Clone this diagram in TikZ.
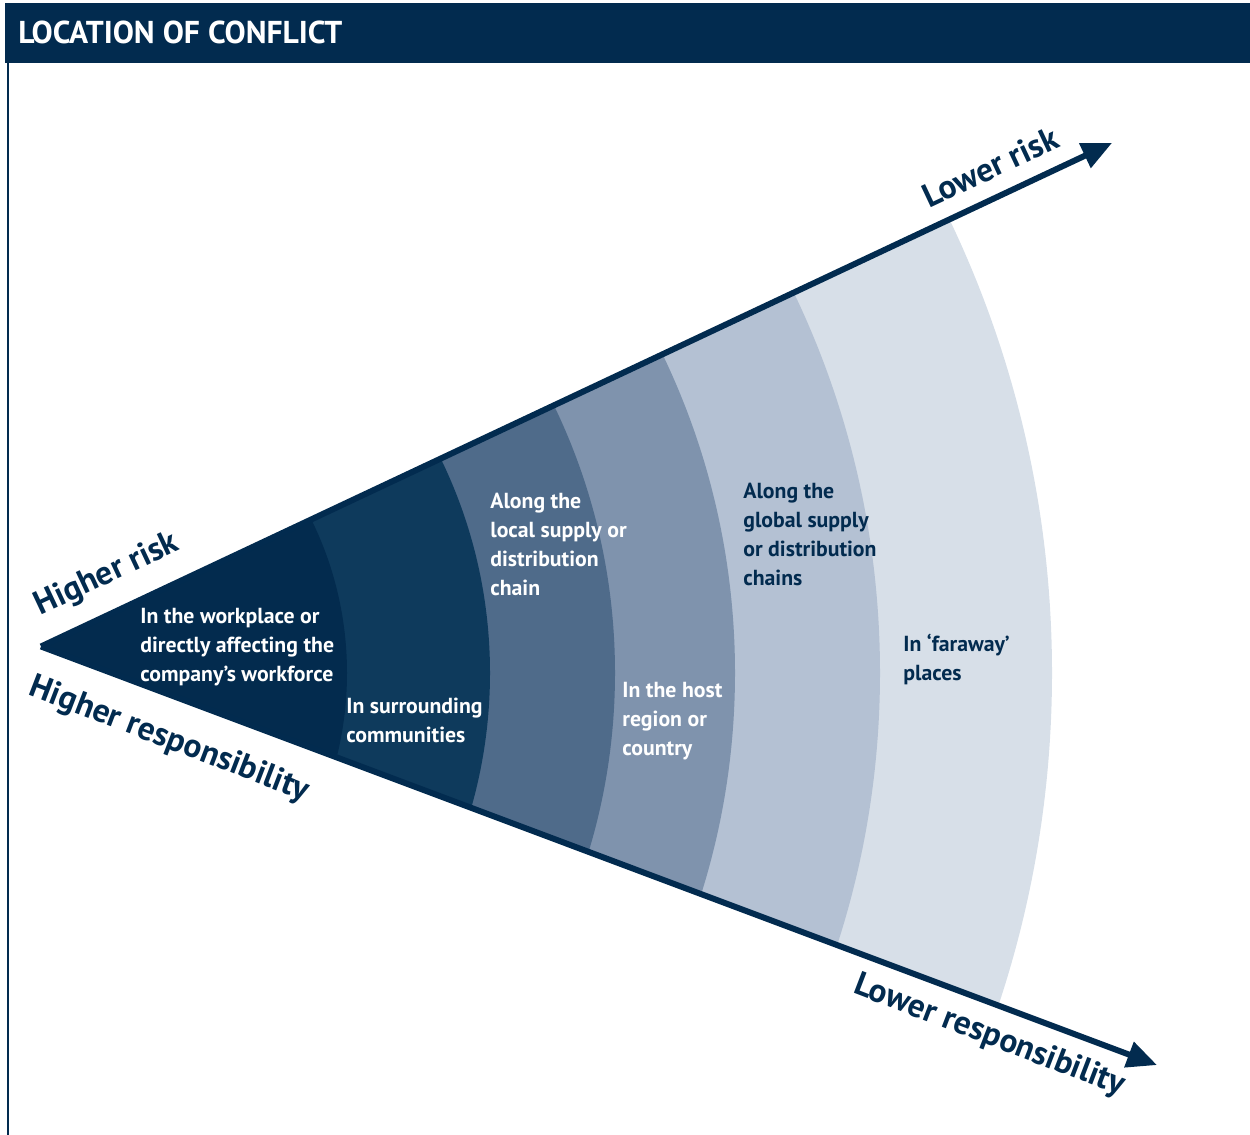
\documentclass[tikz,border=0pt]{standalone}
\usepackage{fontspec}
\setmainfont{PT Sans}
\usetikzlibrary{arrows.meta}
\definecolor{navy}{HTML}{022B4F}
\definecolor{bandA}{HTML}{032B4E}
\definecolor{bandB}{HTML}{0E3A5C}
\definecolor{bandC}{HTML}{4F6B8A}
\definecolor{bandD}{HTML}{7F93AD}
\definecolor{bandE}{HTML}{B4C1D3}
\definecolor{bandF}{HTML}{D7DFE8}
\begin{document}
\begin{tikzpicture}[x=0.02cm,y=0.02cm,font=\bfseries, line join=round, >={Triangle[length=0.6cm,width=0.52cm]}]
			\tikzset{vung/.style={anchor=west,align=left,inner sep=0pt,font=\bfseries\fontsize{12.4}{16.5}\selectfont},
				nhan/.style={navy,inner sep=0pt,font=\bfseries\fontsize{19}{21}\selectfont}}
			\useasboundingbox(0,0)rectangle(1250,1135);
			%%%%%%%%%%%%%%%%%%%KHUNG
			\fill[navy](5,1071.5)rectangle(1250,1131.5);
			\draw[navy,line width=1.4pt](8,1072)--(8,0);
			\node[white,anchor=west,inner sep=0pt,font=\bfseries\fontsize{18}{20}\selectfont](tieude) at (18,1102.5){LOCATION OF CONFLICT};
			%%%%%%%%%%%%%%%%%%%CAC VUNG
			\path(41,488.5)coordinate(O)(0,462)coordinate(M);
			\path(O)++(25.18:1183.5)coordinate(T)(O)++(-20.56:1192)coordinate(D);
			\begin{scope}
				\clip[shift={(O)}](0,0)--(25.18:1300)--(-20.56:1300)--cycle;
				\foreach \r/\c in{1052/bandF,880/bandE,735/bandD,615/bandC,490/bandB,347/bandA}
				\fill[\c](M)circle(\r);
			\end{scope}
			%%%%%%%%%%%%%%%%%%%MUI TEN
			\begin{scope}[navy,line width=3.4pt]
				\draw[->](O)--(T);
				\draw[->](O)--(D);
			\end{scope}
			\node[nhan,rotate=25.18](caorr) at (107,560){Higher risk};
			\node[nhan,rotate=-21](caotn) at (169,395){Higher responsibility};
			\node[nhan,rotate=25.18](thaprr) at (990,968){Lower risk};
			\node[nhan,rotate=-21](thaptn) at (989,99){Lower responsibility};
			%%%%%%%%%%%%%%%%%%%CHU
			\node[vung,white](v1) at (140,487.5){In the workplace or\\directly affecting the\\company’s workforce};
			\node[vung,white](v2) at (346,415){In surrounding\\communities};
			\node[vung,white](v3) at (490,591){Along the\\local supply or\\distribution\\chain};
			\node[vung,white](v4) at (622,414){In the host\\region or\\country};
			\node[vung,navy](v5) at (743,600.5){Along the\\global supply\\or distribution\\chains};
			\node[vung,navy](v6) at (903,476){In ‘faraway’\\places};
	\end{tikzpicture}
\end{document}
